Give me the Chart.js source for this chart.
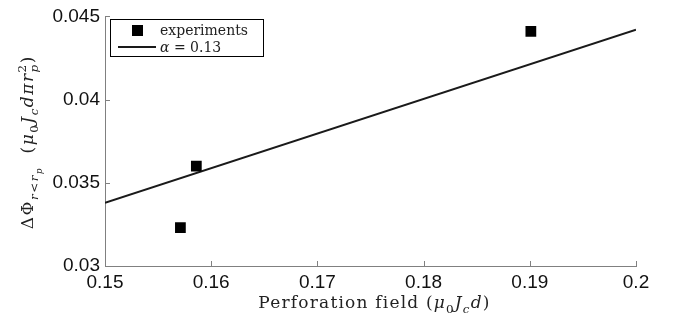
<!DOCTYPE html>
<html>
<head>
<meta charset="utf-8">
<script src="https://cdn.jsdelivr.net/npm/chart.js@4"></script>
<style>
  html, body { margin: 0; padding: 0; background: #fff; }
  #wrap { width: 680px; height: 322px; }
</style>
</head>
<body>
<div id="wrap"><canvas id="chart" width="680" height="322"></canvas></div>
<script>
// measured points (perforation field vs flux)
const fieldX = [0.1571, 0.1586, 0.1901];
const fluxY = [0.0323, 0.0360, 0.0441];

// fitted line, alpha = 0.13
const fitX = [0.15, 0.2];
const fitY = [0.0338, 0.0442];

const xTicks = [0.15, 0.16, 0.17, 0.18, 0.19, 0.2];
const yTicks = [0.03, 0.035, 0.04, 0.045];

const labels = ["experiments", "\u03b1 = 0.13"];

const AXIS_GRAY = "#808080";
const SERIF = "'DejaVu Serif', 'Liberation Serif', serif";

// draws a list of text pieces with italic / sub / sup styles
function drawMath(ctx, parts, x, y, size) {
  let cx = x;
  let keepX = null;
  for (const p of parts) {
    let s = size;
    let dy = 0;
    if (p.sub) { s = size * 0.7; dy = size * 0.3; }
    if (p.sup) { s = size * 0.7; dy = -size * 0.42; }
    if (p.subsub) { s = size * 0.5; dy = size * 0.5; }
    ctx.font = (p.it ? "italic " : "") + s + "px " + SERIF;
    const startX = keepX !== null ? keepX.x : cx;
    ctx.fillText(p.t, startX, y + dy);
    const w = ctx.measureText(p.t).width;
    if (p.keep) {
      keepX = { x: cx, end: cx + w };
      cx += w;
    } else if (keepX !== null) {
      cx = Math.max(keepX.end, startX + w);
      keepX = null;
    } else {
      cx += w;
    }
  }
  return cx - x;
}

function mathWidth(ctx, parts, size) {
  ctx.save();
  ctx.globalAlpha = 0;
  const w = drawMath(ctx, parts, 0, 0, size);
  ctx.restore();
  return w;
}

const xTitle = [
  { t: "Perforation field (" },
  { t: "\u03bc", it: true }, { t: "0", sub: true },
  { t: "J", it: true }, { t: "c", it: true, sub: true },
  { t: "d", it: true }, { t: ")" }
];

const yTitle = [
  { t: "\u0394\u03a6" },
  { t: "r", it: true, sub: true }, { t: "<", sub: true }, { t: "r", it: true, sub: true }, { t: "p", it: true, subsub: true },
  { t: "  (" },
  { t: "\u03bc", it: true }, { t: "0", sub: true },
  { t: "J", it: true }, { t: "c", it: true, sub: true },
  { t: "d\u03c0r", it: true },
  { t: "p", it: true, sub: true, keep: true }, { t: "2", sup: true },
  { t: ")" }
];

const extrasPlugin = {
  id: "extras",
  afterDraw(chart) {
    const ctx = chart.ctx;
    const area = chart.chartArea;
    const xs = chart.scales.x;
    const ys = chart.scales.y;

    // inward tick marks
    ctx.save();
    ctx.strokeStyle = AXIS_GRAY;
    ctx.lineWidth = 1;
    ctx.beginPath();
    for (const v of xTicks) {
      const px = Math.round(xs.getPixelForValue(v)) + 0.5;
      ctx.moveTo(px, area.bottom);
      ctx.lineTo(px, area.bottom - 5);
    }
    for (const v of yTicks) {
      const py = Math.round(ys.getPixelForValue(v)) + 0.5;
      ctx.moveTo(area.left, py);
      ctx.lineTo(area.left + 5, py);
    }
    ctx.stroke();
    ctx.restore();

    // axis titles
    ctx.save();
    ctx.fillStyle = "#222";
    ctx.textBaseline = "alphabetic";
    ctx.textAlign = "left";
    const size = 17;
    ctx.letterSpacing = "1.2px";
    const wx = mathWidth(ctx, xTitle, size);
    drawMath(ctx, xTitle, (area.left + area.right) / 2 + 4 - wx / 2, 308, size);

    ctx.letterSpacing = "1.5px";
    const wy = mathWidth(ctx, yTitle, size);
    ctx.translate(33, (area.top + area.bottom) / 2 + 1);
    ctx.rotate(-Math.PI / 2);
    drawMath(ctx, yTitle, -wy / 2, 0, size);
    ctx.restore();

    // legend box
    const bx = 110.5, by = 19.5, bw = 153, bh = 37;
    ctx.save();
    ctx.fillStyle = "#fff";
    ctx.fillRect(bx, by, bw, bh);
    ctx.strokeStyle = "#000";
    ctx.lineWidth = 1;
    ctx.strokeRect(bx, by, bw, bh);

    const ds = chart.data.datasets;
    ctx.fillStyle = ds[0].backgroundColor;
    ctx.fillRect(132, 25, 11, 11);
    ctx.strokeStyle = ds[1].borderColor;
    ctx.lineWidth = 2;
    ctx.beginPath();
    ctx.moveTo(118, 47);
    ctx.lineTo(156, 47);
    ctx.stroke();

    ctx.fillStyle = "#222";
    ctx.font = "14px " + SERIF;
    ctx.fillText(ds[0].label, 160, 35);
    drawMath(ctx, [{ t: "\u03b1", it: true }, { t: " = 0.13" }], 160, 52, 14);
    ctx.restore();
  }
};

function fmt(v) {
  return String(parseFloat(v.toFixed(3)));
}

const ctx = document.getElementById("chart").getContext("2d");

new Chart(ctx, {
  type: "scatter",
  data: {
    datasets: [
      {
        label: labels[0],
        data: fieldX.map((x, i) => ({ x: x, y: fluxY[i] })),
        backgroundColor: "#000",
        borderColor: "#000",
        borderWidth: 0,
        pointStyle: "rect",
        pointRadius: 7.6,
        order: 0
      },
      {
        label: labels[1],
        type: "line",
        data: fitX.map((x, i) => ({ x: x, y: fitY[i] })),
        borderColor: "#1a1a1a",
        borderWidth: 2,
        pointRadius: 0,
        fill: false,
        order: 1
      }
    ]
  },
  options: {
    responsive: false,
    animation: false,
    layout: { padding: { top: 14, right: 44, left: 0, bottom: 0 } },
    plugins: {
      legend: { display: false },
      tooltip: { enabled: false }
    },
    scales: {
      x: {
        type: "linear",
        min: 0.15,
        max: 0.2,
        afterBuildTicks: s => { s.ticks = xTicks.map(v => ({ value: v })); },
        afterFit: s => { s.height = 56; },
        grid: { display: false, drawTicks: false },
        border: { display: true, color: AXIS_GRAY, width: 1 },
        ticks: {
          padding: 5,
          color: "#111",
          font: { family: "'Liberation Sans', Arial, sans-serif", size: 19 },
          callback: v => fmt(v),
          maxRotation: 0
        }
      },
      y: {
        type: "linear",
        min: 0.03,
        max: 0.045,
        afterBuildTicks: s => { s.ticks = yTicks.map(v => ({ value: v })); },
        afterFit: s => { s.width = 105; },
        grid: { display: false, drawTicks: false },
        border: { display: true, color: AXIS_GRAY, width: 1 },
        ticks: {
          padding: 5,
          color: "#111",
          font: { family: "'Liberation Sans', Arial, sans-serif", size: 19 },
          callback: v => fmt(v)
        }
      }
    }
  },
  plugins: [extrasPlugin]
});
</script>
</body>
</html>
